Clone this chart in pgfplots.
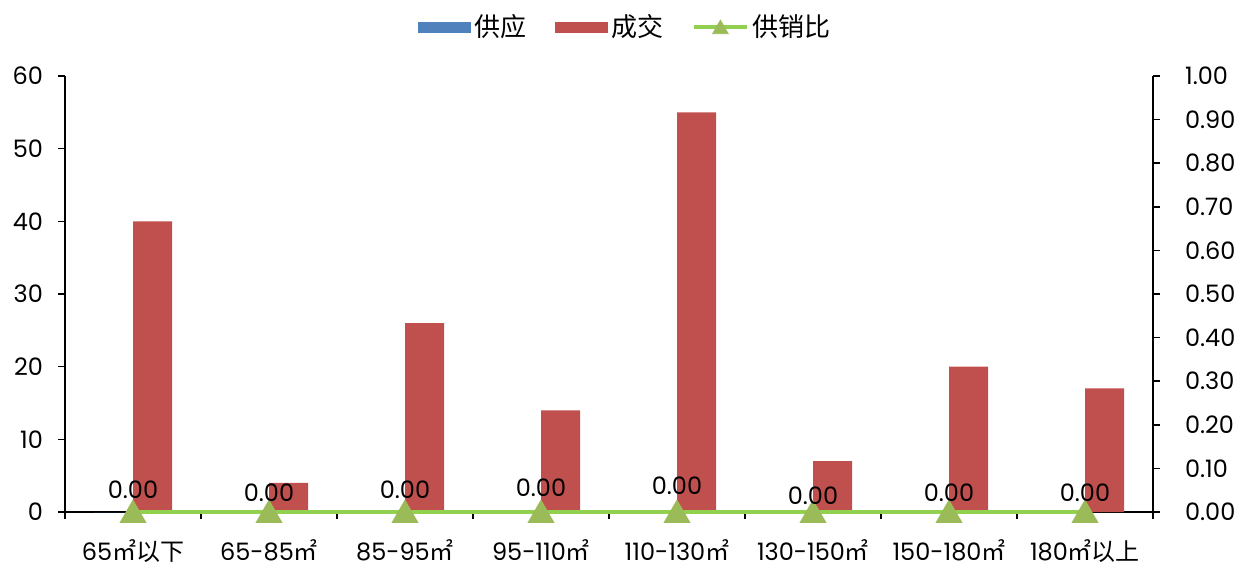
\documentclass[border=0pt]{standalone}
\usepackage{fontspec}
\setmainfont{Poppins}
\newfontfamily\cjk{Noto Sans CJK SC}
\usepackage{pgfplots}
\pgfplotsset{compat=1.18}
\usepackage{pgfplotstable}

\definecolor{supply}{RGB}{79,129,189}
\definecolor{deal}{RGB}{192,80,77}
\definecolor{ratioline}{RGB}{146,208,80}
\definecolor{ratiomark}{RGB}{155,187,89}

\pgfplotstableread{
x supply deal
0 0 40
1 0 4
2 0 26
3 0 14
4 0 55
5 0 7
6 0 20
7 0 17
}\bars

\pgfplotstableread{
x ratio dy
0 0 12.5
1 0 11
2 0 12.5
3 0 13.5
4 0 14.5
5 0 9.5
6 0 11
7 0 11
}\ratio

\begin{document}
\begin{tikzpicture}[font=\fontsize{12}{14}\selectfont]
\useasboundingbox (-32.5pt,-29pt) rectangle (584.5pt,256pt);
\begin{axis}[
  at={(0,0)}, anchor=south west,
  scale only axis, width=544pt, height=218pt,
  xmin=-0.5, xmax=7.5, ymin=0, ymax=60,
  axis x line*=bottom, axis y line*=left,
  axis line style={black, line width=0.8pt},
  tick align=outside,
  major tick length=3.5pt, minor tick length=3.5pt,
  tick style={black, line width=0.8pt},
  ytick={0,10,20,30,40,50,60},
  yticklabel style={/pgf/number format/assume math mode=true, xshift=-4pt},
  xtick={0,1,2,3,4,5,6,7},
  minor xtick={-0.5,0.5,1.5,2.5,3.5,4.5,5.5,6.5,7.5},
  major x tick style={draw=none},
  xticklabels={{65{\cjk ㎡以下}},{65-85{\cjk ㎡}},{85-95{\cjk ㎡}},{95-110{\cjk ㎡}},{110-130{\cjk ㎡}},{130-150{\cjk ㎡}},{150-180{\cjk ㎡}},{180{\cjk ㎡以上}}},
  xticklabel style={inner sep=1pt, yshift=-9pt},
  legend columns=3,
  legend style={at={(0.516,1.112)}, anchor=center, draw=none, fill=none,
    font=\cjk\fontsize{13}{15}\selectfont,
    /tikz/every even column/.append style={column sep=12pt}},
]
\addplot[ybar, bar width=0.287, bar shift=-0.1435, fill=supply, draw=none,
  legend image code/.code={\fill[supply] (0pt,-2.75pt) rectangle (26.5pt,2.75pt);}]
  table[x=x, y=supply] {\bars};
\addlegendentry{供应}
\addplot[ybar, bar width=0.287, bar shift=0.1435, fill=deal, draw=none,
  legend image code/.code={\fill[deal] (0pt,-2.75pt) rectangle (26.5pt,2.75pt);}]
  table[x=x, y=deal] {\bars};
\addlegendentry{成交}
\addlegendimage{legend image code/.code={
  \draw[ratioline, line width=2pt] (0pt,0pt) -- (26.5pt,0pt);
  \path plot[mark=triangle*, mark size=4.5pt, mark options={fill=ratiomark, draw=ratiomark, yshift=-1pt}] coordinates {(13.25pt,0pt)};}}
\addlegendentry{供销比}
\end{axis}
\begin{axis}[
  at={(0,0)}, anchor=south west,
  scale only axis, width=544pt, height=218pt,
  xmin=-0.5, xmax=7.5, ymin=0, ymax=1,
  axis x line=none, axis y line*=right,
  axis line style={black, line width=0.8pt},
  tick align=outside, major tick length=3.5pt,
  tick style={black, line width=0.8pt},
  ytick={0,0.1,0.2,0.3,0.4,0.5,0.6,0.7,0.8,0.9,1.0},
  yticklabel style={/pgf/number format/.cd, fixed, fixed zerofill, precision=2, assume math mode=true, /tikz/.cd, xshift=9pt},
  clip=false,
]
\addplot[ratioline, line width=2pt, mark=triangle*, mark size=5.8pt,
  mark options={fill=ratiomark, draw=ratiomark, yshift=-1.5pt},
  visualization depends on={\thisrow{dy} \as \dy},
  nodes near coords={\pgfmathprintnumber[fixed, fixed zerofill, precision=2, assume math mode=true]{\pgfplotspointmeta}},
  every node near coord/.append style={anchor=center, yshift=\dy pt, text=black, font=\fontsize{12}{14}\selectfont},
  point meta=explicit]
  table[x=x, y=ratio, meta=ratio] {\ratio};
\end{axis}
\end{tikzpicture}
\end{document}
